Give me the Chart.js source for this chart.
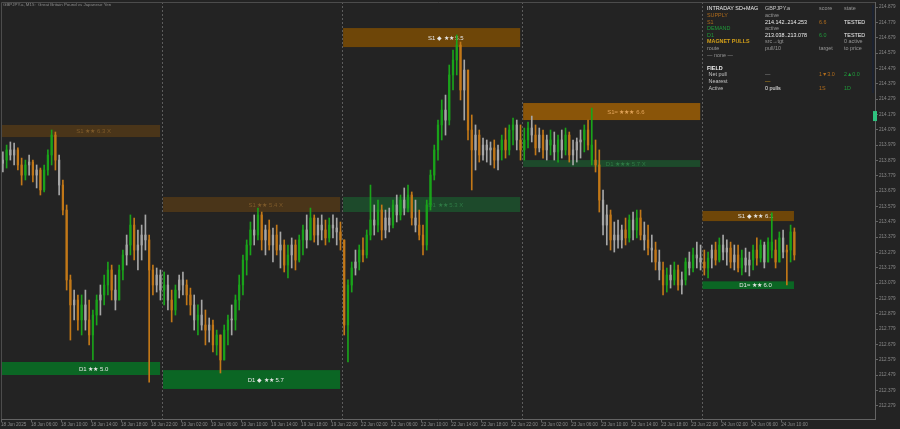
<!DOCTYPE html>
<html>
<head>
<meta charset="utf-8">
<title>GBPJPY.a M15</title>
<script src="https://cdn.jsdelivr.net/npm/chart.js@4.4.1/dist/chart.umd.min.js"></script>
<style>
  html, body { margin: 0; padding: 0; background: #232323; overflow: hidden; }
  #contenedor { position: relative; width: 900px; height: 429px; }
</style>
</head>
<body>
<div id="contenedor"><canvas id="grafico"></canvas></div>
<script>
// ---- datos ----

// etiquetas del eje de tiempo (horas desde el inicio)
const horasX = [0, 4, 8, 12, 16, 20, 24, 28, 32, 36, 40, 44, 48, 52, 56, 60, 64, 68, 72, 76, 80, 84, 88, 92, 96, 100, 104];
const etiquetasX = [
    "18 Jun 2025", "18 Jun 06:00", "18 Jun 10:00", "18 Jun 14:00", "18 Jun 18:00", "18 Jun 22:00",
    "19 Jun 02:00", "19 Jun 06:00", "19 Jun 10:00", "19 Jun 14:00", "19 Jun 18:00", "19 Jun 22:00",
    "22 Jun 02:00", "22 Jun 06:00", "22 Jun 10:00", "22 Jun 14:00", "22 Jun 18:00", "22 Jun 22:00",
    "23 Jun 02:00", "23 Jun 06:00", "23 Jun 10:00", "23 Jun 14:00", "23 Jun 18:00", "23 Jun 22:00",
    "24 Jun 02:00", "24 Jun 06:00", "24 Jun 10:00"
];

// etiquetas del eje de precio
const marcasY = [
    212.279, 212.379, 212.479, 212.579, 212.679, 212.779, 212.879, 212.979, 213.079,
    213.179, 213.279, 213.379, 213.479, 213.579, 213.679, 213.779, 213.879, 213.979,
    214.079, 214.179, 214.279, 214.379, 214.479, 214.579, 214.679, 214.779, 214.879
];

// separadores de dia (horas)
const separadores = [21.47, 45.47, 69.47, 93.47];

// apertura de la primera barra
const primeraApertura = 213.860;

// maximos
const maximos = [
    // dia 1
    213.934, 213.979, 213.999, 213.992, 213.960, 213.894, 213.881, 213.914,
    213.881, 213.849, 213.829, 213.849, 213.947, 214.077, 214.064, 213.914,
    213.751, 213.588, 213.131, 213.033, 213.001, 213.001, 213.033, 212.968,
    212.903, 213.001, 213.066, 213.131, 213.216, 213.196, 213.131, 213.196,
    213.294, 213.392, 213.523, 213.503, 213.425, 213.457, 213.523, 213.392,
    213.196, 213.177, 213.164,
    // dia 2
    213.151, 213.131, 213.033, 213.066, 213.131, 213.151, 213.099, 213.046,
    213.001, 212.936, 212.968, 212.903, 212.851, 212.838, 212.772, 212.740,
    212.805, 212.870, 212.936, 213.001, 213.131, 213.262, 213.360, 213.477,
    213.523, 213.568, 213.542, 213.457, 213.490, 213.438, 213.457, 213.412,
    213.360, 213.327, 213.373, 213.360, 213.392, 213.457, 213.523, 213.568,
    213.523, 213.503, 213.523, 213.490, 213.503, 213.523, 213.503, 213.477,
    // dia 3
    213.360, 213.099, 213.216, 213.294, 213.327, 213.373, 213.425, 213.718,
    213.588, 213.620, 213.588, 213.555, 213.568, 213.620, 213.653, 213.653,
    213.699, 213.718, 213.673, 213.620, 213.555, 213.457, 213.620, 213.816,
    213.979, 214.142, 214.273, 214.305, 214.501, 214.599, 214.697, 214.651,
    214.534, 214.468, 214.175, 214.110, 214.077, 214.025, 214.012, 213.999,
    214.012, 213.979, 214.044, 214.090, 214.110, 214.155, 214.142, 214.110,
    // dia 4
    214.090, 214.129, 214.168, 214.110, 214.090, 214.077, 214.044, 214.077,
    214.064, 214.044, 214.077, 214.090, 214.064, 214.012, 214.025, 214.077,
    214.110, 214.142, 214.220, 214.012, 213.947, 213.686, 213.588, 213.555,
    213.477, 213.490, 213.457, 213.503, 213.523, 213.542, 213.555, 213.555,
    213.477, 213.457, 213.392, 213.346, 213.294, 213.216, 213.177, 213.196,
    213.216, 213.196, 213.151, 213.242, 213.281, 213.307, 213.346, 213.327,
    // dia 5
    213.294, 213.281, 213.327, 213.346, 213.373, 213.392, 213.360, 213.346,
    213.327, 213.327, 213.294, 213.307, 213.281, 213.327, 213.373, 213.360,
    213.346, 213.373, 213.536, 213.360, 213.412, 213.425, 213.327, 213.457,
    213.438
];

// minimos
const minimos = [
    // dia 1
    213.803, 213.829, 213.881, 213.849, 213.816, 213.718, 213.751, 213.783,
    213.738, 213.699, 213.653, 213.673, 213.783, 213.849, 213.816, 213.653,
    213.523, 213.033, 212.707, 212.838, 212.772, 212.740, 212.772, 212.675,
    212.577, 212.805, 212.870, 212.936, 213.001, 212.968, 212.903, 212.968,
    213.099, 213.196, 213.262, 213.229, 213.164, 213.229, 213.294, 212.433,
    213.001, 213.020, 212.968,
    // dia 2
    212.936, 212.903, 212.825, 212.870, 212.981, 213.001, 212.936, 212.870,
    212.772, 212.740, 212.772, 212.675, 212.694, 212.629, 212.609, 212.492,
    212.577, 212.675, 212.740, 212.772, 212.903, 213.001, 213.131, 213.262,
    213.327, 213.360, 213.294, 213.262, 213.294, 213.216, 213.262, 213.177,
    213.151, 213.112, 213.177, 213.164, 213.216, 213.262, 213.307, 213.360,
    213.346, 213.327, 213.360, 213.327, 213.346, 213.373, 213.327, 213.294,
    // dia 3
    212.740, 212.564, 213.020, 213.131, 213.164, 213.216, 213.242, 213.360,
    213.392, 213.412, 213.360, 213.373, 213.412, 213.438, 213.477, 213.490,
    213.523, 213.542, 213.457, 213.412, 213.360, 213.262, 213.294, 213.555,
    213.751, 213.881, 214.012, 214.044, 214.110, 214.338, 214.436, 214.273,
    214.142, 214.012, 213.686, 213.816, 213.868, 213.881, 213.868, 213.849,
    213.829, 213.816, 213.881, 213.894, 213.914, 213.979, 213.947, 213.881,
    // dia 4
    213.881, 213.960, 213.999, 213.914, 213.934, 213.894, 213.881, 213.914,
    213.881, 213.868, 213.894, 213.914, 213.868, 213.849, 213.868, 213.894,
    213.934, 213.947, 213.849, 213.803, 213.542, 213.392, 213.327, 213.294,
    213.281, 213.307, 213.307, 213.327, 213.346, 213.360, 213.373, 213.360,
    213.294, 213.262, 213.216, 213.164, 213.099, 213.001, 213.020, 213.046,
    213.066, 213.033, 213.007, 213.066, 213.131, 213.151, 213.177, 213.164,
    // dia 5
    213.131, 213.112, 213.177, 213.196, 213.216, 213.229, 213.196, 213.177,
    213.164, 213.151, 213.131, 213.151, 213.125, 213.164, 213.196, 213.216,
    213.177, 213.216, 213.242, 213.177, 213.216, 213.242, 213.066, 213.216,
    213.229
];

// cierres
const cierres = [
    // dia 1
    213.881, 213.947, 213.914, 213.947, 213.849, 213.783, 213.849, 213.868,
    213.783, 213.816, 213.686, 213.816, 213.914, 214.044, 213.881, 213.718,
    213.555, 213.099, 212.936, 212.968, 212.838, 212.936, 212.838, 212.740,
    212.870, 212.968, 213.001, 213.066, 213.164, 213.033, 212.968, 213.164,
    213.262, 213.327, 213.457, 213.294, 213.327, 213.392, 213.360, 213.164,
    213.066, 213.131, 213.033,
    // dia 2
    213.066, 212.968, 212.903, 213.033, 213.099, 213.066, 213.001, 212.936,
    212.838, 212.870, 212.805, 212.772, 212.805, 212.675, 212.740, 212.577,
    212.772, 212.838, 212.838, 212.968, 213.066, 213.229, 213.327, 213.425,
    213.392, 213.523, 213.360, 213.425, 213.327, 213.392, 213.294, 213.327,
    213.196, 213.262, 213.327, 213.229, 213.360, 213.425, 213.360, 213.503,
    213.392, 213.457, 213.425, 213.373, 213.457, 213.438, 213.412, 213.360,
    // dia 3
    212.805, 213.066, 213.177, 213.216, 213.294, 213.262, 213.392, 213.490,
    213.457, 213.555, 213.425, 213.503, 213.457, 213.588, 213.523, 213.620,
    213.568, 213.653, 213.503, 213.457, 213.392, 213.327, 213.588, 213.783,
    213.947, 214.110, 214.207, 214.142, 214.436, 214.534, 214.631, 214.338,
    214.468, 214.077, 213.947, 214.044, 213.914, 213.979, 213.947, 213.960,
    213.881, 213.947, 214.012, 213.947, 214.077, 214.110, 214.012, 213.947,
    // dia 4
    214.012, 214.090, 214.044, 213.960, 214.044, 213.947, 214.012, 213.979,
    213.934, 214.012, 213.947, 214.044, 213.914, 213.947, 213.999, 214.012,
    214.077, 213.979, 213.881, 213.849, 213.620, 213.457, 213.523, 213.360,
    213.392, 213.360, 213.425, 213.373, 213.490, 213.425, 213.503, 213.392,
    213.360, 213.307, 213.294, 213.216, 213.164, 213.066, 213.131, 213.099,
    213.164, 213.066, 213.099, 213.216, 213.177, 213.262, 213.242, 213.216,
    // dia 5
    213.177, 213.242, 213.294, 213.229, 213.327, 213.281, 213.307, 213.216,
    213.262, 213.177, 213.242, 213.196, 213.229, 213.294, 213.242, 213.327,
    213.216, 213.346, 213.294, 213.216, 213.373, 213.281, 213.294, 213.412,
    213.262
];

// color de cada barra: g verde, o naranja, w gris
const tiposBarra = (
    "wgwwoogwowoggg" + "owooowogwoggwg" + "gowggwgowwwoow" + "w" +
    "gwogwwoo" + "wgwowogo" + "ggwggggg" + "wgowowow" + "ogwoggwg" + "owwogwwo" +
    "oggwgogg" + "wgowwgwg" + "wgowoogg" + "gggwgggo" + "woowowww" + "owgoggwo" +
    "ggwowowg" + "wgwgowww" + "gogoowwo" + "wwwogwgo" + "wowowogw" + "gowgwgww" +
    "ogwogwwo" + "wogwwgog" + "wggogwog" + "o"
).split("");

// zonas de oferta / demanda: [hora inicio, hora fin, precio bajo, precio alto, tipo, texto]
const zonas = [
    [0.13, 21.2, 214.031, 214.110, "sF", "S1 ★★ 6.3 X"],
    [0.13, 21.2, 212.479, 212.564, "D", "D1 ★★ 5.0"],
    [21.6, 45.2, 213.542, 213.640, "sF", "S1 ★★ 5.4 X"],
    [21.6, 45.2, 212.388, 212.511, "D", "D1 ◆ ★★ 5.7"],
    [45.6, 69.2, 214.618, 214.742, "S", "S1 ◆ ★★ 5.5"],
    [45.6, 69.2, 213.542, 213.640, "dF", "D1 ★★ 5.3 X"],
    [69.6, 93.2, 214.142, 214.253, "S2", "S1≈ ★★★ 6.6"],
    [69.6, 93.2, 213.836, 213.881, "dF", "D1 ★★★ 5.7 X"],
    [93.5, 105.7, 213.483, 213.549, "S", "S1 ◆ ★★ 6.1"],
    [93.5, 105.7, 213.040, 213.090, "D", "D1≈ ★★ 6.0"]
];

// marcador del precio actual en el eje
const precioMarcador = 214.168;

// panel de informacion: cada fila tiene 4 columnas [texto, color]
const panelFilas = [
    [["INTRADAY SD+MAG", "blanco"], ["GBPJPY.a", "claro"], ["score", "gris"], ["state", "gris"]],
    [["SUPPLY", "naranja"], ["active", "gris"], null, null],
    [["S1", "naranja"], ["214.142..214.253", "blanco"], ["6.6", "naranja"], ["TESTED", "blanco"]],
    [["DEMAND", "verde"], ["active", "gris"], null, null],
    [["D1", "verde"], ["213.038..213.078", "blanco"], ["6.0", "verde"], ["TESTED", "blanco"]],
    [["MAGNET PULLS", "oro"], ["src→tgt", "gris"], null, ["0 active", "gris"]],
    [["route", "gris"], ["pull/10", "gris"], ["target", "gris"], ["to price", "gris"]],
    [["— none —", "gris"], null, null, null],
    [null, null, null, null],
    [["FIELD", "blanco"], null, null, null],
    [[" Net pull", "claro"], ["—", "gris"], ["1▼3.0", "naranja"], ["2▲0.0", "verde"]],
    [[" Nearest", "claro"], ["—", "oro"], null, null],
    [[" Active", "claro"], ["0 pulls", "blanco"], ["1S", "naranja"], ["1D", "verde"]]
];

const titulo = "GBPJPY.a, M15:  Great Britain Pound vs Japanese Yen";

// ---- estilos ----
const fuente = '"Liberation Sans", Arial, sans-serif';
const coloresTipo = { g: "#1aa31a", o: "#c27818", w: "#a6a6a6" };
const estiloZona = {
    sF: { fondo: "#4a3519", texto: "#7d5a2a" },
    S:  { fondo: "#6e4608", texto: "#e6e6e6" },
    S2: { fondo: "#8a5509", texto: "#e2a45a" },
    D:  { fondo: "#0b6624", texto: "#e6e6e6" },
    dF: { fondo: "#1d4a2b", texto: "#2f7a45" }
};
const coloresPanel = {
    blanco: "#eeeeee", claro: "#c4c4c4", gris: "#979797",
    naranja: "#b06c1c", verde: "#1f9a3a", oro: "#d4a019"
};

// hora del centro de cada barra de 30 minutos
function horaBarra(i) {
    return 0.25 + 0.5 * i;
}

// arma los datos de mechas y cuerpos
const aperturas = cierres.map((c, i) => (i === 0 ? primeraApertura : cierres[i - 1]));
const mechas = maximos.map((h, i) => ({
    x: horaBarra(i),
    y: [Math.min(minimos[i], aperturas[i], cierres[i]), Math.max(h, aperturas[i], cierres[i])]
}));
const cuerpos = cierres.map((c, i) => ({ x: horaBarra(i), y: [aperturas[i], c] }));
const coloresBarras = tiposBarra.map(t => coloresTipo[t]);

// dibuja zonas, separadores, titulo y panel
const extras = {
    id: "extras",
    beforeDatasetsDraw(chart) {
        const { ctx, chartArea, scales } = chart;
        const x = scales.x, y = scales.y;
        ctx.save();

        // separadores de dia
        ctx.strokeStyle = "#5c5c5c";
        ctx.lineWidth = 1;
        ctx.setLineDash([2, 2]);
        separadores.forEach(h => {
            const px = Math.round(x.getPixelForValue(h)) + 0.5;
            ctx.beginPath();
            ctx.moveTo(px, chartArea.top);
            ctx.lineTo(px, chartArea.bottom);
            ctx.stroke();
        });
        ctx.setLineDash([]);

        // zonas
        ctx.font = "6px " + fuente;
        ctx.textAlign = "center";
        ctx.textBaseline = "middle";
        zonas.forEach(z => {
            const x1 = x.getPixelForValue(z[0]);
            const x2 = x.getPixelForValue(z[1]);
            const y1 = y.getPixelForValue(z[3]);
            const y2 = y.getPixelForValue(z[2]);
            const estilo = estiloZona[z[4]];
            ctx.fillStyle = estilo.fondo;
            ctx.fillRect(x1, y1, x2 - x1, y2 - y1);
            ctx.fillStyle = estilo.texto;
            ctx.fillText(z[5], x1 + (x2 - x1) * 0.58, (y1 + y2) / 2 + 0.5);
        });
        ctx.restore();
    },
    afterDraw(chart) {
        const { ctx, chartArea, scales } = chart;
        ctx.save();

        // marco superior e izquierdo
        ctx.strokeStyle = "#4c4c4c";
        ctx.lineWidth = 1;
        ctx.beginPath();
        ctx.moveTo(chartArea.left + 0.5, chartArea.bottom);
        ctx.lineTo(chartArea.left + 0.5, chartArea.top + 0.5);
        ctx.lineTo(chartArea.right, chartArea.top + 0.5);
        ctx.stroke();

        // titulo
        ctx.fillStyle = "#8c8c8c";
        ctx.font = "4.4px " + fuente;
        ctx.textAlign = "left";
        ctx.textBaseline = "middle";
        ctx.fillText(titulo, 3, 5);

        // borde derecho del panel
        ctx.fillStyle = "#1b2231";
        ctx.fillRect(872, 5, 2, 88);

        // marcador de precio
        const py = scales.y.getPixelForValue(precioMarcador);
        ctx.fillStyle = "#2fc27f";
        ctx.fillRect(873, py - 5, 4, 10);

        // panel de texto
        const columnas = [707, 765, 819, 844];
        panelFilas.forEach((fila, r) => {
            const fy = 9 + r * 6.6;
            fila.forEach((celda, c) => {
                if (!celda) return;
                const negrita = celda[0] === "MAGNET PULLS" || celda[0] === "FIELD";
                ctx.font = (negrita ? "bold " : "") + "5.4px " + fuente;
                ctx.fillStyle = coloresPanel[celda[1]];
                ctx.fillText(celda[0], columnas[c], fy);
            });
        });
        ctx.restore();
    }
};

Chart.defaults.font.family = fuente;

new Chart(document.getElementById("grafico"), {
    type: "bar",
    data: {
        datasets: [
            {
                label: "mechas",
                data: mechas,
                backgroundColor: coloresBarras,
                barThickness: 1,
                grouped: false,
                borderWidth: 0
            },
            {
                label: "cuerpos",
                data: cuerpos,
                backgroundColor: coloresBarras,
                barThickness: 1.6,
                minBarLength: 1,
                grouped: false,
                borderWidth: 0
            }
        ]
    },
    options: {
        responsive: true,
        maintainAspectRatio: false,
        animation: false,
        devicePixelRatio: 1,
        layout: { padding: { left: 1, top: 2, right: 0, bottom: 0 } },
        plugins: {
            legend: { display: false },
            tooltip: { enabled: false }
        },
        scales: {
            x: {
                type: "linear",
                min: 0,
                max: 116.5,
                offset: false,
                grid: { offset: false, drawOnChartArea: false, tickLength: 3, color: "#636363" },
                border: { color: "#636363" },
                ticks: {
                    align: "start",
                    maxRotation: 0,
                    autoSkip: false,
                    padding: 0,
                    color: "#8a8a8a",
                    font: { size: 4.6 },
                    callback: (v, i) => etiquetasX[i]
                },
                afterBuildTicks: s => { s.ticks = horasX.map(v => ({ value: v })); },
                afterFit: s => { s.height = 10; s.paddingLeft = 0; s.paddingRight = 0; }
            },
            y: {
                position: "right",
                min: 212.192,
                max: 214.912,
                grid: { drawOnChartArea: false, tickLength: 3, color: "#636363" },
                border: { color: "#636363" },
                ticks: {
                    padding: 1,
                    color: "#8a8a8a",
                    font: { size: 4.6 },
                    callback: v => v.toFixed(3)
                },
                afterBuildTicks: s => { s.ticks = marcasY.map(v => ({ value: v })); },
                afterFit: s => { s.width = 25; s.paddingTop = 0; s.paddingBottom = 0; }
            }
        }
    },
    plugins: [extras]
});
</script>
</body>
</html>
